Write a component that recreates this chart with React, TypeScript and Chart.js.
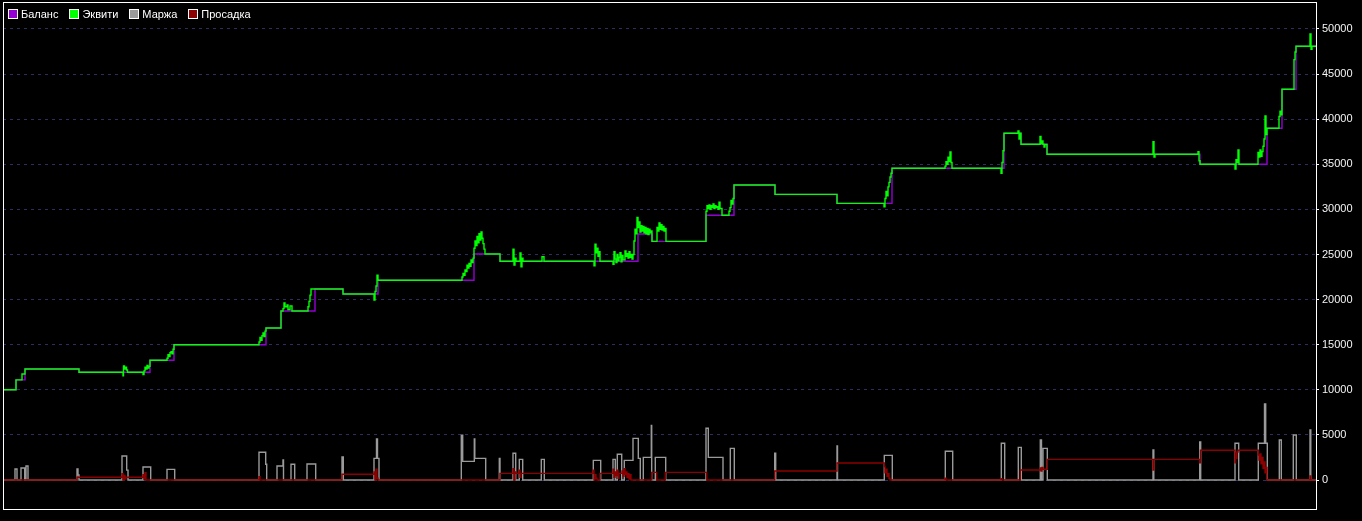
import React, { useEffect, useRef } from 'react';
import { Chart, registerables } from 'chart.js';

Chart.register(...registerables);

type Pt = [number, number];

// [time index, value] change events (step-before)
const balance: Pt[] = [
  [0, 10000], [13, 11100], [22, 12300], [76, 11950], [147, 13270], [171, 15000],
  [263, 16850], [278, 18735], [312, 21170], [340, 20620], [375, 22140], [471, 25050],
  [497, 24245], [635, 27270], [649, 26460], [703, 29345], [731, 32700], [772, 31670],
  [834, 30670], [889, 34555], [1001, 38435], [1018, 37215], [1044, 36107], [1197, 35000],
  [1264, 38990], [1279, 43313], [1293, 48080], [1313, 48080],
];

const equity: Pt[] = [
  [0, 10000], [13, 11100], [19, 11750], [22, 12300], [76, 11950],
  [120, 11560], [120.5, 12640], [121.5, 12300], [122.5, 12500], [123.5, 12200], [124.5, 11950],
  [140, 11700], [141, 12100], [142, 12500], [143, 12300], [144, 12700], [145, 12400], [146, 12600], [147, 13270],
  [164, 13500], [165, 13900], [166, 13700], [167, 14100], [168, 14220], [169, 14000], [170, 14500], [171, 15000],
  [256, 15300], [257, 15800], [258, 15500], [259, 16000], [260, 16300], [261, 15900], [262, 16500], [263, 16850],
  [278, 18735], [280, 19000], [281, 19620], [282, 19200], [284, 19400], [285, 18900], [287, 19300], [289, 18735],
  [305, 19200], [306, 19800], [307, 20500], [308, 21170],
  [340, 20620],
  [371, 19960], [372, 20900], [373, 21500], [374, 22700], [375, 22140],
  [459, 22500], [460, 22900], [461, 22700], [462, 23300], [463, 23100], [464, 23800], [465, 23500], [466, 24000],
  [467, 23700], [468, 24400], [469, 24100], [470, 24600], [471, 25700], [472, 26500], [473, 26000], [474, 27000],
  [475, 26300], [476, 27300], [477, 26600], [478, 27500], [479, 26800], [480, 26200], [481, 25600], [482, 25050],
  [497, 24245],
  [510, 25600], [511, 23830], [512, 24600], [513, 24245],
  [517, 25160], [518, 23650], [519, 24600], [520, 24245],
  [539, 24750], [541, 24245],
  [591, 23760], [592, 26130], [593, 25200], [594, 25700], [595, 24800], [596, 25300], [597, 24245],
  [610, 23900], [611, 25300], [612, 24500], [613, 24100], [614, 25000], [615, 24300], [616, 24700], [617, 25200],
  [618, 24200], [619, 24900], [620, 24400], [622, 25400], [623, 24800], [624, 25100], [625, 24600], [626, 25300],
  [627, 24700], [628, 25000], [629, 24500],
  [630, 25000], [631, 26500], [632, 27800], [633, 27300], [634, 29100], [635, 28000], [636, 28600], [637, 27500],
  [638, 28200], [639, 27600], [640, 28100], [641, 27400], [642, 28000], [643, 27300], [644, 27900], [645, 27200],
  [646, 27800], [647, 27400], [648, 27600],
  [649, 26460],
  [654, 28000], [655, 27600], [656, 28490], [657, 27800], [658, 28300], [659, 27700], [660, 28100], [661, 27600],
  [662, 27900], [663, 26460],
  [703, 29800], [704, 30400], [705, 30100], [706, 30500], [707, 30000], [708, 30400], [709, 30200], [710, 30600],
  [711, 30100], [712, 30400], [713, 30200], [714, 30300], [715, 30000], [716, 30800], [717, 30100], [719, 29345],
  [726, 29800], [727, 30200], [728, 31000], [729, 30600], [730, 31200], [731, 32700],
  [772, 31670],
  [834, 30670],
  [881, 30300], [882, 31200], [883, 32000], [884, 31500], [885, 32500], [886, 33000], [887, 33600], [888, 34000], [889, 34555],
  [942, 34800], [943, 35300], [944, 35000], [945, 35800], [946, 35300], [947, 36360], [948, 35200], [949, 34555],
  [998, 34000], [999, 35200], [1000, 36500], [1001, 38435],
  [1015, 38700], [1016, 37800], [1017, 38435], [1018, 37215],
  [1037, 38100], [1038, 37300], [1039, 37600], [1040, 37215], [1041, 36900], [1042, 37200], [1044, 36107],
  [1150, 37500], [1151, 35800], [1152, 36107],
  [1195, 36400], [1196, 35400], [1197, 35000],
  [1232, 34480], [1233, 35500], [1234, 35200], [1235, 36580], [1236, 35000],
  [1255, 36300], [1256, 35800], [1257, 36600], [1258, 35900], [1259, 36400], [1260, 37000], [1261, 37800],
  [1262, 40350], [1263, 38300], [1264, 38990],
  [1276, 40300], [1277, 40900], [1278, 40500], [1279, 43313],
  [1291, 46600], [1292, 47450], [1293, 48080],
  [1307, 49440], [1308, 47750], [1309, 48080],
  [1313, 48080],
];

const margin: Pt[] = [
  [0, 0], [12, 1220], [14, 0], [18, 1330], [21.7, 0], [23, 1550], [25, 0],
  [74, 1220], [75, 550], [76, 0],
  [119, 2660], [123.7, 1100], [125, 0],
  [140, 1440], [147.7, 0], [164, 1180], [171.7, 0],
  [256, 3070], [262.7, 1740], [263.7, 0],
  [274, 1550], [280, 2220], [280.5, 0], [288, 1740], [291.7, 0], [304, 1770], [312.7, 0],
  [339, 2550], [340.3, 0],
  [371, 2400], [373.5, 4540], [374.5, 2400], [376, 0],
  [458.3, 4960], [459.7, 2070], [471.3, 4540], [471.8, 2400], [482.7, 0],
  [496.3, 2400], [497, 0], [510, 2960], [512.7, 0], [516.3, 2290], [519.7, 0], [538.3, 2290], [541.3, 0],
  [590.3, 2180], [597.7, 0], [610, 2290], [612.3, 0], [614.3, 2850], [618.7, 0],
  [621.3, 2180], [630, 4620], [635.3, 2400], [637.3, 0],
  [640.3, 2510], [648.3, 6060], [648.7, 0], [652.3, 2510], [662.7, 0],
  [703, 5730], [705.3, 2510], [720, 0], [727.3, 3510], [731.3, 0],
  [771.7, 2960], [772.7, 0], [834, 3770], [834.5, 0],
  [881.3, 2730], [889.3, 0], [942.3, 3180], [949.7, 0],
  [998.3, 4070], [1001.7, 0], [1015.3, 3620], [1018.3, 0],
  [1037.3, 4430], [1038.5, 0], [1040, 3510], [1044.3, 0],
  [1150, 3330], [1150.8, 0], [1196.7, 4210], [1197.7, 0],
  [1232, 4070], [1235.7, 0],
  [1255.3, 4070], [1261.5, 8430], [1262.7, 4070], [1264.3, 0],
  [1276.3, 4430], [1278.3, 0], [1290.3, 4990], [1293.3, 0],
  [1307, 5540], [1307.8, 0], [1313, 0],
];

const drawdown: Pt[] = [
  [0, 0], [74, 300], [119, 700], [120, 0], [121, 500], [122, 100], [123, 300],
  [140, 600], [141, 100], [142, 800], [143, 0],
  [256, 370], [257, 0],
  [339, 630], [371, 900], [372, 0], [373, 1200], [374, 200], [375, 0],
  [497, 740], [510, 1250], [511, 0], [512, 900], [513, 740], [516, 1100], [517, 300], [518, 740],
  [590, 1100], [591, 0], [592, 600], [593, 200], [594, 0], [597, 740],
  [610, 1200], [611, 300], [612, 900], [613, 500], [614, 1100], [615, 200], [616, 740], [619, 1000],
  [620, 400], [621, 1250], [622, 600], [623, 900], [624, 300], [625, 700], [626, 100], [627, 600], [628, 0],
  [648.7, 850], [653.7, 0], [662.3, 850], [703.7, 0],
  [771.7, 1000], [834, 1880],
  [881.3, 1500], [882, 800], [883, 1200], [884, 400], [885, 700], [886, 200], [887, 0],
  [942, 200], [943, 0], [998, 150], [999, 0],
  [1017.3, 1110], [1037.3, 1330], [1038, 1000], [1039, 1400], [1040, 1200], [1044.3, 2290],
  [1150, 1100], [1151, 2290],
  [1196.7, 1900], [1197.5, 3290],
  [1232, 1920], [1232.7, 3000], [1233.3, 2400], [1234, 3100], [1235, 3290],
  [1255.3, 2770], [1256, 2200], [1257, 2900], [1258, 1800], [1259, 2500], [1260, 1300], [1261, 2000],
  [1262, 800], [1263, 1400], [1264, 0],
  [1307, 440], [1307.8, 0], [1313, 0],
];

const yTicks = [0, 5000, 10000, 15000, 20000, 25000, 30000, 35000, 40000, 45000, 50000];
const seriesNames = ['Баланс', 'Эквити', 'Маржа', 'Просадка'];

const X_MIN = 0;
const X_MAX = 1313;
const Y_MIN = -3215;
const Y_MAX = 52882;

const COLORS = ['#9400d3', '#00ff00', '#9a9a9a', '#8b0000'];
const FONT = '"Liberation Sans", Arial, sans-serif';

const toXY = (pts: Pt[]) => pts.map(([x, y]) => ({ x, y }));

export default function App() {
  const ref = useRef<HTMLCanvasElement | null>(null);

  useEffect(() => {
    document.body.style.margin = '0';
    document.body.style.background = '#000';
    const canvas = ref.current;
    if (!canvas) return;

    const framePlugin = {
      id: 'frame',
      beforeDraw(chart: any) {
        const c = chart.ctx;
        c.save();
        c.fillStyle = '#000';
        c.fillRect(0, 0, chart.width, chart.height);
        c.restore();
      },
      afterDraw(chart: any) {
        const { left, right, top, bottom } = chart.chartArea;
        const c = chart.ctx;
        c.save();
        c.strokeStyle = '#ffffff';
        c.lineWidth = 1;
        c.strokeRect(Math.round(left) + 0.5, Math.round(top) - 0.5, Math.round(right - left), Math.round(bottom - top) + 1);
        c.restore();
      },
    };

    const mk = (i: number, pts: Pt[], order: number) => ({
      label: seriesNames[i],
      data: toXY(pts),
      borderColor: COLORS[i],
      backgroundColor: COLORS[i],
      borderWidth: 1.4,
      stepped: 'before' as const,
      pointRadius: 0,
      fill: false,
      order,
    });

    const chart = new Chart(canvas, {
      type: 'line',
      data: {
        datasets: [
          mk(0, balance, 1),
          mk(1, equity, 0),
          mk(2, margin, 3),
          mk(3, drawdown, 2),
        ],
      },
      options: {
        animation: false,
        responsive: false,
        events: [],
        layout: { padding: { left: 3, top: 3, right: 0, bottom: 12 } },
        plugins: { legend: { display: false }, tooltip: { enabled: false } },
        scales: {
          x: { type: 'linear', min: X_MIN, max: X_MAX, display: false },
          y: {
            type: 'linear',
            position: 'right',
            min: Y_MIN,
            max: Y_MAX,
            afterBuildTicks: (s: any) => {
              s.ticks = yTicks.map((v) => ({ value: v }));
            },
            afterFit: (s: any) => {
              s.width = 46;
              s.paddingTop = 0;
              s.paddingBottom = 0;
            },
            ticks: {
              color: '#f4f4f4',
              font: { family: FONT, size: 11 },
              padding: 3,
              callback: (v: any) => String(v),
            },
            grid: {
              color: '#2e2e5e',
              lineWidth: 1,
              tickColor: '#ffffff',
              tickLength: 3,
              tickBorderDash: [],
            },
            border: { display: false, dash: [3, 4] },
          },
        },
      },
      plugins: [framePlugin],
    } as any);

    return () => chart.destroy();
  }, []);

  return (
    <div style={{ position: 'relative', width: 1362, height: 521, background: '#000' }}>
      <canvas ref={ref} width={1362} height={521} style={{ display: 'block', width: 1362, height: 521 }} />
      <div
        style={{
          position: 'absolute',
          left: 8,
          top: 9,
          display: 'flex',
          alignItems: 'center',
          fontFamily: FONT,
          fontSize: 11,
          color: '#ffffff',
          lineHeight: '10px',
        }}
      >
        {seriesNames.map((name, i) => (
          <div key={name} style={{ display: 'flex', alignItems: 'center', marginRight: 11 }}>
            <span
              style={{
                display: 'inline-block',
                width: 10,
                height: 10,
                boxSizing: 'border-box',
                border: '1px solid #ffffff',
                background: COLORS[i],
                marginRight: 3,
              }}
            />
            <span>{name}</span>
          </div>
        ))}
      </div>
    </div>
  );
}
